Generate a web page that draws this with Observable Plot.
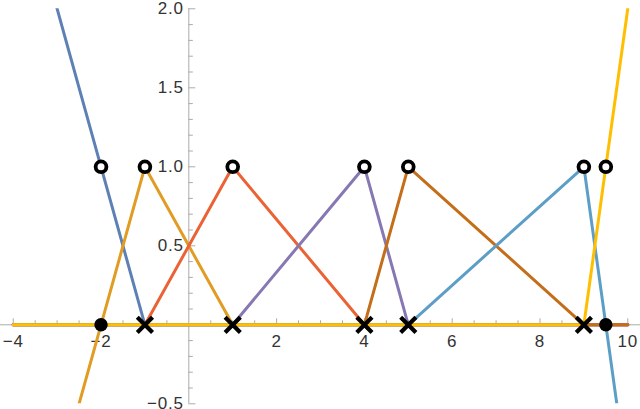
<!DOCTYPE html>
<html>
<head>
<meta charset="utf-8">
<script src="https://cdn.jsdelivr.net/npm/d3@7"></script>
<script src="https://cdn.jsdelivr.net/npm/@observablehq/plot@0.6"></script>
<style>
  html, body { margin: 0; padding: 0; background: #fff; }
  #chart svg { display: block; }
  #chart text { letter-spacing: 0.8px; }
</style>
</head>
<body>
<div id="chart"></div>
<script>
// ---- data ----
const nodes = [-2, -1, 1, 4, 5, 9, 9.5];
const lineColors = ["#5E81B5", "#E19C24", "#EB6235", "#8778B3", "#C56E1A", "#5D9EC7", "#FFBF00"];
const curveXRange = [-4, 10];
const crossNodes = [-1, 1, 4, 5, 9];
const filledNodes = [-2, 9.5];
const peakValue = 1;
const xTickLabels = [-4, -2, 2, 4, 6, 8, 10];
const yTickLabels = [-0.5, 0.5, 1.0, 1.5, 2.0];
const xMinorStep = 0.5;
const yMinorStep = 0.1;

// ---- piecewise-linear basis functions with linear extrapolation ----
function basis(i, x) {
  const n = nodes.length;
  let k = 0;
  while (k < n - 2 && x > nodes[k + 1]) k++;
  const t = (x - nodes[k]) / (nodes[k + 1] - nodes[k]);
  return (k === i ? 1 - t : 0) + (k + 1 === i ? t : 0);
}
const sampleXs = [curveXRange[0], ...nodes, curveXRange[1]];
const series = nodes.map((_, i) => sampleXs.map(x => ({x, y: basis(i, x)})));

const xMinor = d3.range(curveXRange[0], curveXRange[1] + 1e-9, xMinorStep).filter(v => Math.abs(v) > 1e-9);
const yMinor = d3.range(-0.5, 2.0 + 1e-9, yMinorStep).map(v => Math.round(v * 10) / 10).filter(v => Math.abs(v) > 1e-9);
const isMajorX = v => xTickLabels.some(t => Math.abs(t - v) < 1e-9);
const isMajorY = v => yTickLabels.some(t => Math.abs(t - v) < 1e-9);

const fmtX = d3.format("");
const fmtY = d3.format(".1f");
const axisColor = "#ababab";
const labelColor = "#333333";

const chart = Plot.plot({
  width: 640,
  height: 409,
  marginLeft: 0,
  marginRight: 0,
  marginTop: 8.3,
  marginBottom: 5.7,
  x: {domain: [-4.29, 10.29], axis: null},
  y: {domain: [-0.5, 2.0], axis: null},
  style: {fontFamily: "Liberation Sans, Arial, sans-serif", background: "#fff"},
  marks: [
    // axes
    Plot.ruleY([0], {stroke: axisColor, strokeWidth: 1}),
    Plot.ruleX([0], {stroke: axisColor, strokeWidth: 1}),
    // x ticks (upwards)
    Plot.ruleX(xMinor.filter(v => !isMajorX(v)), {x: d => d, y1: 0, y2: 0, insetBottom: 4, stroke: axisColor}),
    Plot.ruleX(xMinor.filter(isMajorX), {x: d => d, y1: 0, y2: 0, insetBottom: 6, stroke: axisColor}),
    // y ticks (rightwards)
    Plot.ruleY(yMinor.filter(v => !isMajorY(v)), {y: d => d, x1: 0, x2: 0, insetRight: -4.5, stroke: axisColor}),
    Plot.ruleY(yMinor.filter(isMajorY), {y: d => d, x1: 0, x2: 0, insetRight: -7, stroke: axisColor}),
    // tick labels
    Plot.text(xTickLabels, {x: d => d, y: 0, text: d => fmtX(d), dy: 17, fontSize: 17, fill: labelColor, textAnchor: "middle"}),
    Plot.text(yTickLabels, {x: 0, y: d => d, text: d => fmtY(d), dx: -5, fontSize: 17, fill: labelColor, textAnchor: "end"}),
    // curves
    ...series.map((pts, i) => Plot.line(pts, {x: "x", y: "y", stroke: lineColors[i], strokeWidth: 3, clip: true})),
    // markers
    Plot.dot(nodes, {x: d => d, y: peakValue, r: 5.4, fill: "white", stroke: "black", strokeWidth: 3.8}),
    Plot.dot(crossNodes, {x: d => d, y: 0, symbol: "times", r: 7, stroke: "black", strokeWidth: 4.2}),
    Plot.dot(filledNodes, {x: d => d, y: 0, r: 6.7, fill: "black", stroke: "none"})
  ]
});
document.getElementById("chart").appendChild(chart);
</script>
</body>
</html>
